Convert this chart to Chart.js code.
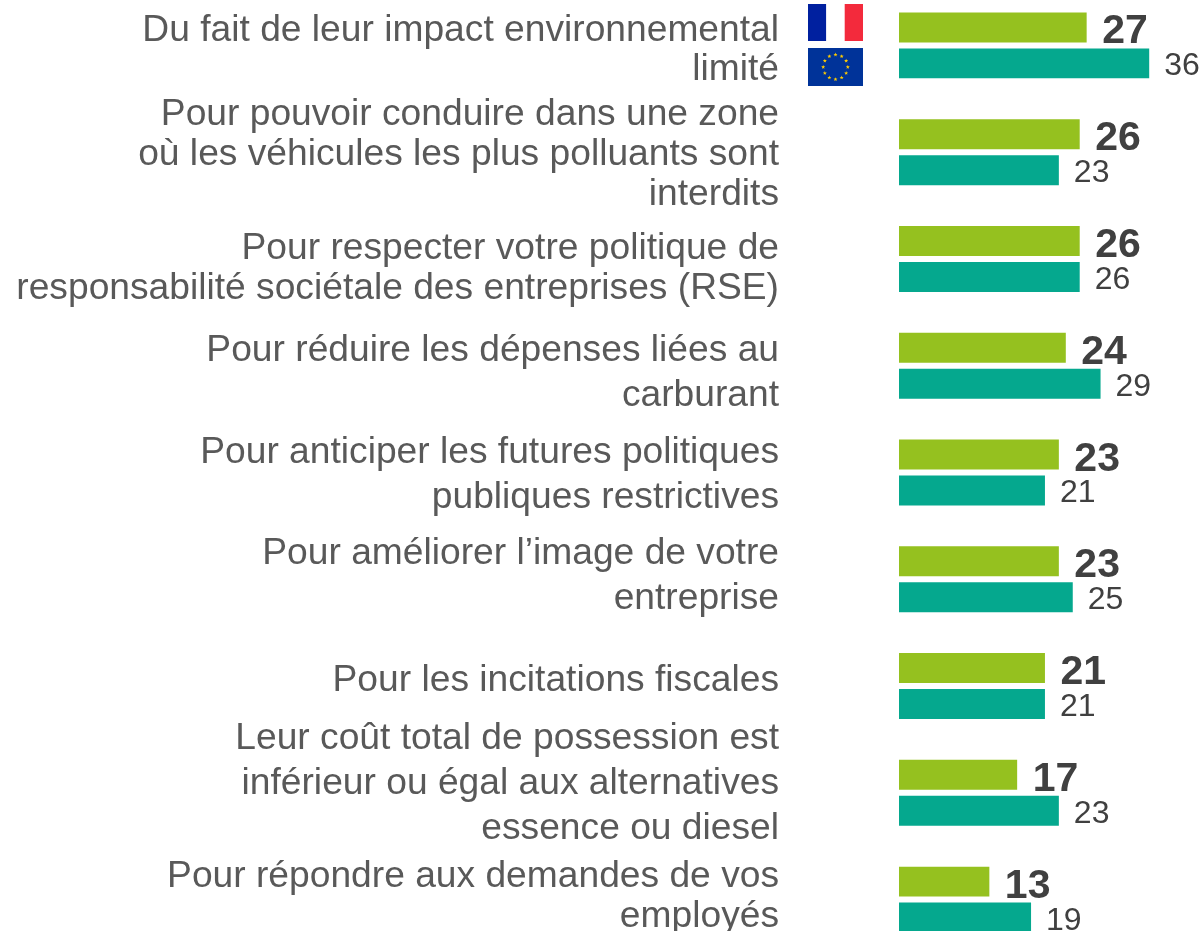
<!DOCTYPE html>
<html lang="fr">
<head>
<meta charset="utf-8">
<title>Raisons</title>
<style>
html,body{margin:0;padding:0;background:#fff;width:1203px;height:931px;overflow:hidden;position:relative}
canvas{position:absolute;left:0;top:-8px}
</style>
<script src="https://cdn.jsdelivr.net/npm/chart.js@4"></script>
</head>
<body>
<canvas id="c" width="1203" height="961" style="width:1203px;height:961px"></canvas>
<script>
const categories = [
  ["Du fait de leur impact environnemental", "limité"],
  ["Pour pouvoir conduire dans une zone", "où les véhicules les plus polluants sont", "interdits"],
  ["Pour respecter votre politique de", "responsabilité sociétale des entreprises (RSE)"],
  ["Pour réduire les dépenses liées au", "carburant"],
  ["Pour anticiper les futures politiques", "publiques restrictives"],
  ["Pour améliorer l’image de votre", "entreprise"],
  ["Pour les incitations fiscales"],
  ["Leur coût total de possession est", "inférieur ou égal aux alternatives", "essence ou diesel"],
  ["Pour répondre aux demandes de vos", "employés"]
];
const franceValues = [27, 26, 26, 24, 23, 23, 21, 17, 13];
const europeValues = [36, 23, 26, 29, 21, 25, 21, 23, 19];
const labelLineHeights = [39, 40, 40, 45, 45, 45, 40, 45, 40];
const labelShifts = [4.5, 3, 10, 7.5, 3, -3.5, -5, -9.5, -3];

const FONT = '"Liberation Sans", Arial, sans-serif';

const shiftLabels = {
  id: 'shiftLabels',
  beforeDraw(chart) {
    const s = chart.scales.y;
    s.getLabelItems().forEach((item, i) => {
      if (!item.__shifted) { item.options.translation[1] += labelShifts[i]; item.__shifted = true; }
    });
  }
};

const valueLabels = {
  id: 'valueLabels',
  afterDatasetsDraw(chart) {
    const ctx = chart.ctx;
    ctx.save();
    ctx.textAlign = 'left';
    ctx.textBaseline = 'alphabetic';
    chart.data.datasets.forEach((ds, d) => {
      const bold = d === 0;
      ctx.font = (bold ? 'bold 41px ' : '32px ') + FONT;
      ctx.fillStyle = '#404040';
      chart.getDatasetMeta(d).data.forEach((bar, i) => {
        ctx.fillText(String(ds.data[i]), bar.x + (bold ? 15.5 : 15), bar.y + (bold ? 16 : 12));
      });
    });
    ctx.restore();
  }
};

const flags = {
  id: 'flags',
  afterDraw(chart) {
    const ctx = chart.ctx;
    ctx.save();
    ctx.translate(0, 8);
    ctx.fillStyle = '#00209F'; ctx.fillRect(808, 4, 18.3, 37);
    ctx.fillStyle = '#FFFFFF'; ctx.fillRect(826.3, 4, 18.4, 37);
    ctx.fillStyle = '#F32A3C'; ctx.fillRect(844.7, 4, 18.3, 37);
    ctx.fillStyle = '#003399'; ctx.fillRect(808, 48, 55, 38);
    ctx.fillStyle = '#FFCC00';
    const cx = 835.5, cy = 67, r = 12.3;
    for (let k = 0; k < 12; k++) {
      const a = k * Math.PI / 6;
      const x = cx + r * Math.sin(a), y = cy - r * Math.cos(a);
      ctx.beginPath();
      for (let p = 0; p < 10; p++) {
        const q = p * Math.PI / 5, rr = p % 2 ? 0.9 : 2.1;
        ctx.lineTo(x + rr * Math.sin(q), y - rr * Math.cos(q));
      }
      ctx.closePath();
      ctx.fill();
    }
    ctx.restore();
  }
};

new Chart(document.getElementById('c'), {
  type: 'bar',
  data: {
    labels: categories,
    datasets: [
      { label: 'France', data: franceValues, backgroundColor: '#95C11F', categoryPercentage: 0.6735, barPercentage: 0.8333 },
      { label: 'Europe', data: europeValues, backgroundColor: '#05A88E', categoryPercentage: 0.6735, barPercentage: 0.8333 }
    ]
  },
  options: {
    indexAxis: 'y',
    responsive: false,
    animation: false,
    layout: { padding: 0 },
    plugins: { legend: { display: false }, tooltip: { enabled: false } },
    scales: {
      x: { display: false, min: 0, max: 43.74 },
      y: {
        afterFit(s) { s.width = 899; s.paddingTop = 0; s.paddingBottom = 0; },
        grid: { display: false, drawTicks: false },
        border: { display: false },
        ticks: {
          padding: 120,
          color: '#595959',
          autoSkip: false,
          maxRotation: 0,
          minRotation: 0,
          font: c => ({ family: FONT, size: 37.2, lineHeight: labelLineHeights[c.index] + 'px' })
        }
      }
    }
  },
  plugins: [shiftLabels, valueLabels, flags]
});
</script>
</body>
</html>
